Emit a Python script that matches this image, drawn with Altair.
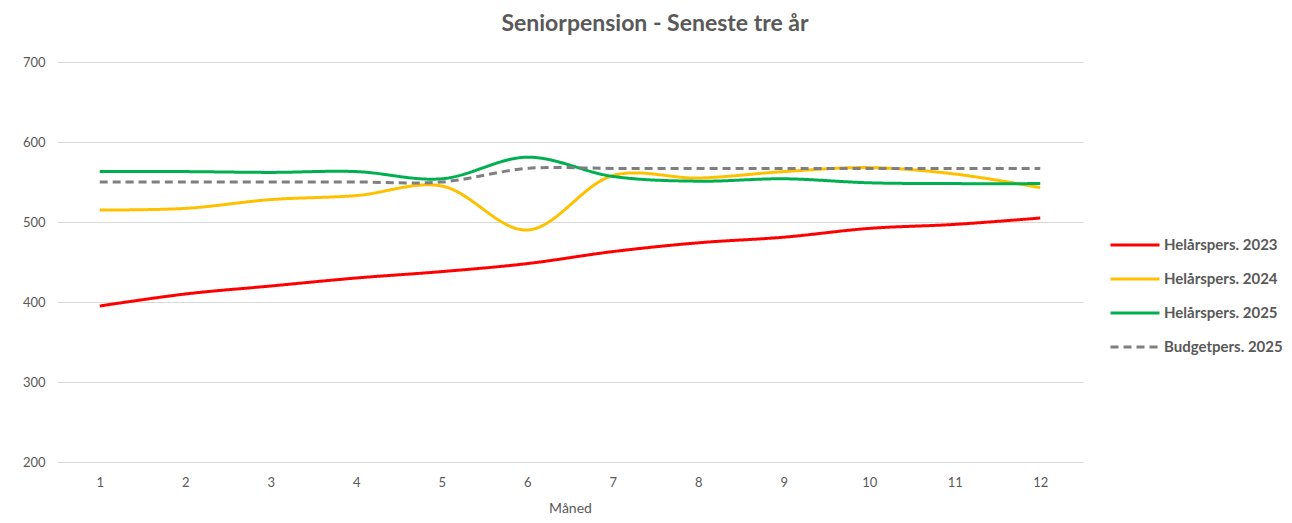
import altair as alt
import pandas as pd

months = list(range(1, 13))
series_names = ["Helårspers. 2023", "Helårspers. 2024", "Helårspers. 2025", "Budgetpers. 2025"]
v2023 = [395, 410, 420, 430, 438, 448, 463, 474, 481, 492, 497, 505]
v2024 = [515, 517, 528, 533, 545, 490, 558, 555, 563, 568, 560, 543]
v2025 = [563, 563, 562, 563, 554, 581, 557, 551, 554, 549, 548, 548]
budget = [550, 550, 550, 550, 550, 567, 567, 567, 567, 567, 567, 567]
colors = ["#FF0000", "#FFC000", "#00B050", "#7F7F7F"]
dashes = [[1, 0], [1, 0], [1, 0], [8, 5]]

rows = []
for name, vals in zip(series_names, [v2023, v2024, v2025, budget]):
    for m, v in zip(months, vals):
        rows.append({"Måned": str(m), "serie": name, "værdi": v})
df = pd.DataFrame(rows)

FONT = "Lato"
GRAY = "#595959"

legend_opts = dict(title=None, orient="none", legendX=1052, legendY=157,
                   symbolType="stroke", symbolSize=2400,
                   symbolStrokeWidth=3, labelFontSize=15,
                   labelFontWeight="bold", labelColor=GRAY,
                   rowPadding=0, labelOffset=3)

chart = alt.Chart(df).mark_line(strokeWidth=3, interpolate="catmull-rom").encode(
    x=alt.X("Måned:O", sort=[str(m) for m in months],
            scale=alt.Scale(padding=0.5),
            axis=alt.Axis(title="Måned", labelAngle=0, domain=False, ticks=False,
                          labelPadding=14, titlePadding=12, labelFontSize=13,
                          titleFontSize=14, titleFontWeight="normal")),
    y=alt.Y("værdi:Q", scale=alt.Scale(domain=[200, 700], nice=False, zero=False),
            axis=alt.Axis(title=None, values=[200, 300, 400, 500, 600, 700],
                          domain=False, ticks=False, labelPadding=12, labelFontSize=13,
                          gridColor="#D9D9D9", gridWidth=1)),
    color=alt.Color("serie:N", sort=series_names,
                    scale=alt.Scale(domain=series_names, range=colors),
                    legend=alt.Legend(**legend_opts)),
    strokeDash=alt.StrokeDash("serie:N", sort=series_names,
                              scale=alt.Scale(domain=series_names, range=dashes),
                              legend=alt.Legend(**legend_opts)),
).properties(
    width=1026, height=400,
    title=alt.TitleParams("Seniorpension - Seneste tre år", fontSize=23, fontWeight="bold",
                          color=GRAY, font=FONT, offset=20, dx=85),
    autosize=alt.AutoSizeParams(type="none"),
    padding={"left": 49, "top": 54, "right": 201, "bottom": 53},
).configure_view(stroke=None).configure_axis(
    labelFont=FONT, titleFont=FONT, labelColor=GRAY, titleColor=GRAY
).configure_legend(labelFont=FONT)

chart.save("out.html", embed_options={"renderer": "svg", "actions": False})
